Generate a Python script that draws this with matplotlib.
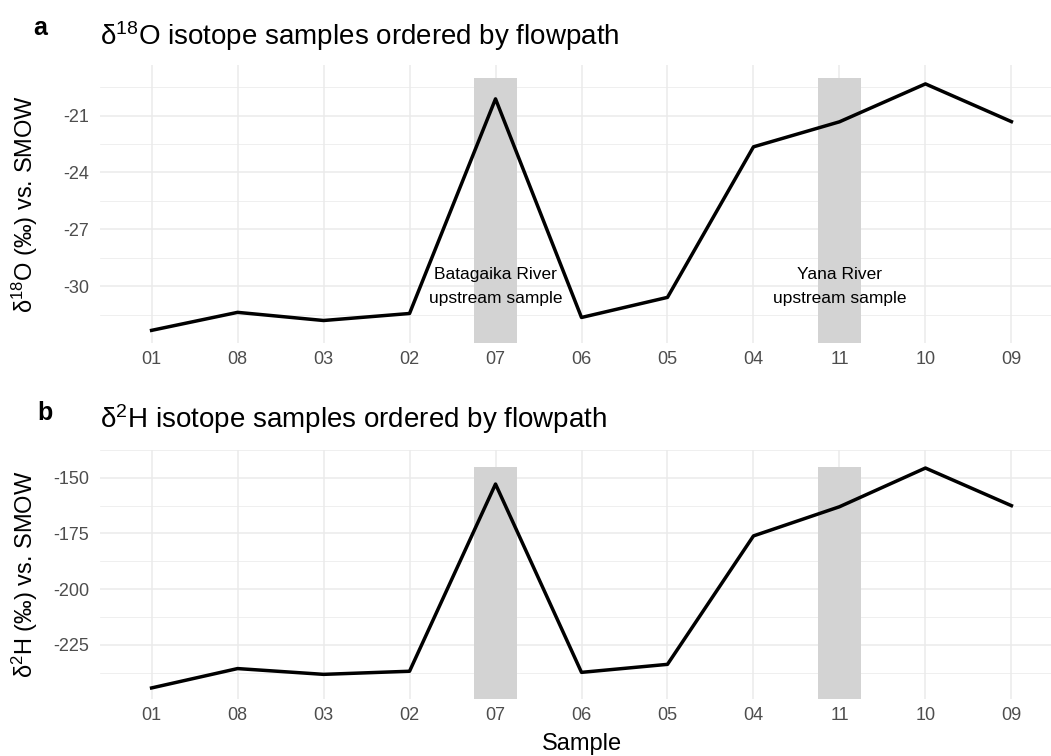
import numpy as np
import matplotlib
matplotlib.use("Agg")
import matplotlib.pyplot as plt

plt.rcParams['font.family'] = ['Liberation Sans', 'DejaVu Sans']
plt.rcParams['mathtext.fontset'] = 'custom'
plt.rcParams['mathtext.rm'] = 'Liberation Sans'
plt.rcParams['mathtext.it'] = 'Liberation Sans'
plt.rcParams['axes.unicode_minus'] = False

# samples in flowpath order
samples = ['01', '08', '03', '02', '07', '06', '05', '04', '11', '10', '09']
d18O = [-32.33, -31.38, -31.81, -31.44, -20.12, -31.65, -30.59, -22.65, -21.33, -19.33, -21.32]
d2H = [-244.4, -235.7, -238.3, -236.9, -152.8, -237.4, -233.8, -176.1, -163.0, -145.6, -162.5]

highlight = ['07', '11']
highlight_top_O = -19
highlight_top_H = -145
notes = ['Batagaika River\nupstream sample', 'Yana River\nupstream sample']
note_y_O = -30

yticks_O = [-30, -27, -24, -21]
yticks_H = [-225, -200, -175, -150]

W, H = 1051, 756
fig = plt.figure(figsize=(W / 100, H / 100), dpi=100)


def px_axes(left, top, right, bottom):
    return fig.add_axes([left / W, 1 - bottom / H, (right - left) / W, (bottom - top) / H])


def panel(ax, vals, rect_top, yticks, minor_step):
    x = np.arange(1, len(samples) + 1)
    lo = min(vals)
    hi = max(max(vals), rect_top)
    rng = hi - lo
    ylo, yhi = lo - 0.05 * rng, hi + 0.05 * rng
    ax.set_xlim(0.4, len(samples) + 0.6)
    ax.set_ylim(ylo, yhi)
    for s in highlight:
        xi = samples.index(s) + 1
        ax.fill_between([xi - 0.25, xi + 0.25], ylo, rect_top, color='#D3D3D3', lw=0, zorder=1)
    ax.plot(x, vals, color='black', lw=2.5, zorder=3)
    ax.set_xticks(x)
    ax.set_xticklabels(samples)
    ax.set_yticks(yticks)
    minors = np.arange(yticks[0] - minor_step, yticks[-1] + 2 * minor_step, 2 * minor_step)
    ax.set_yticks(minors, minor=True)
    ax.grid(True, which='major', color='#EBEBEB', lw=1.1, zorder=0)
    ax.grid(True, which='minor', axis='y', color='#EBEBEB', lw=0.55, zorder=0)
    ax.set_axisbelow(True)
    for sp in ax.spines.values():
        sp.set_visible(False)
    ax.tick_params(which='both', length=0, labelsize=13, labelcolor='#4D4D4D')
    ax.tick_params(axis='x', pad=6)
    ax.tick_params(axis='y', pad=8)
    ax.yaxis.set_label_coords(-0.062, 0.5)


ax1 = px_axes(100, 65, 1063, 343)
panel(ax1, d18O, highlight_top_O, yticks_O, 1.5)
ax1.set_ylabel(r'$\mathregular{\delta^{18}}$O (‰) vs. SMOW', fontsize=17)
for s, t in zip(highlight, notes):
    ax1.text(samples.index(s) + 1, note_y_O, t, ha='center', va='center', fontsize=12.5,
             linespacing=1.75, zorder=4)

ax2 = px_axes(100, 450, 1063, 699)
panel(ax2, d2H, highlight_top_H, yticks_H, 12.5)
ax2.set_ylabel(r'$\mathregular{\delta^{2}}$H (‰) vs. SMOW', fontsize=17)
ax2.set_xlabel('Sample', fontsize=17)
ax2.xaxis.set_label_coords(0.5, -0.135)

fig.text(100 / W, 1 - 36 / H, r'$\mathregular{\delta^{18}}$O isotope samples ordered by flowpath',
         fontsize=20, va='center', ha='left')
fig.text(100 / W, 1 - 419 / H, r'$\mathregular{\delta^{2}}$H isotope samples ordered by flowpath',
         fontsize=20, va='center', ha='left')
fig.text(40 / W, 1 - 28 / H, 'a', fontsize=18, fontweight='bold', ha='center', va='center')
fig.text(45 / W, 1 - 413 / H, 'b', fontsize=18, fontweight='bold', ha='center', va='center')

fig.savefig('out.png', dpi=100)
